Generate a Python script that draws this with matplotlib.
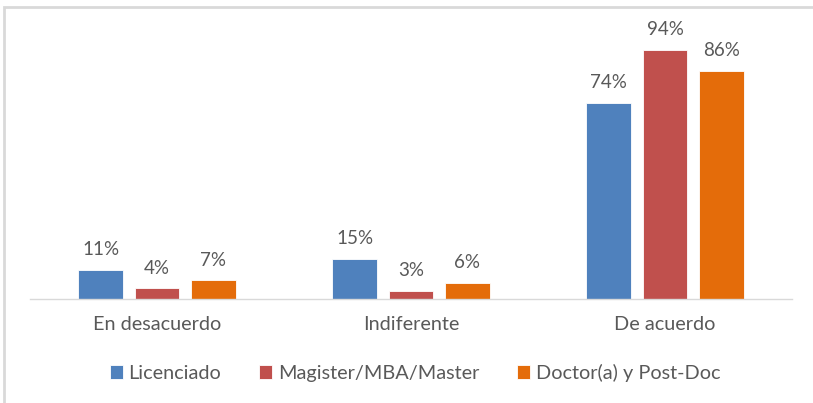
import matplotlib
matplotlib.use("Agg")
import matplotlib.pyplot as plt
from matplotlib.patches import Rectangle
import numpy as np

categories = ["En desacuerdo", "Indiferente", "De acuerdo"]
series_names = ["Licenciado", "Magister/MBA/Master", "Doctor(a) y Post-Doc"]
licenciado = [11, 15, 74]
magister = [4, 3, 94]
doctor = [7, 6, 86]
colors = ["#4F81BD", "#C0504D", "#E46C0A"]

plt.rcParams['font.family'] = ['Lato', 'DejaVu Sans']
text_color = "#595959"

fig = plt.figure(figsize=(8.13, 4.03), dpi=100)
ax = fig.add_axes([30/813, (403-299)/403, 762/813, 265/403])

x = np.arange(len(categories))
width = 0.177
offsets = [-0.222, 0.0, 0.222]
for vals, off, col, name in zip([licenciado, magister, doctor], offsets, colors, series_names):
    bars = ax.bar(x + off, vals, width, color=col, label=name, edgecolor='white', linewidth=0.6)
    for b, v in zip(bars, vals):
        ax.annotate(f"{v}%", (b.get_x() + b.get_width()/2, v), xytext=(0, 8.5),
                    textcoords="offset points", ha="center", va="bottom",
                    fontsize=13.5, color=text_color)

ax.set_xlim(-0.5, 2.5)
ax.set_ylim(0, 100)
ax.set_yticks([])
ax.set_xticks(x)
ax.set_xticklabels(categories, fontsize=14.3, color=text_color)
ax.tick_params(axis='x', length=0, pad=12)
for s in ["top", "right", "left"]:
    ax.spines[s].set_visible(False)
ax.spines["bottom"].set_color("#D9D9D9")
ax.spines["bottom"].set_linewidth(1.0)

leg = fig.legend(loc="center", bbox_to_anchor=(415/813, 1 - 373/403), ncol=3, frameon=False,
                 fontsize=14.3, handlelength=0.65, handleheight=0.65, handletextpad=0.3,
                 columnspacing=1.9)
for t in leg.get_texts():
    t.set_color(text_color)

fig.patches.append(Rectangle((4/813, -0.1), 1.2, (403-7)/403 + 0.1, transform=fig.transFigure,
                             fill=False, edgecolor="#D9D9D9", linewidth=2.0))

fig.savefig("out.png", dpi=100)
